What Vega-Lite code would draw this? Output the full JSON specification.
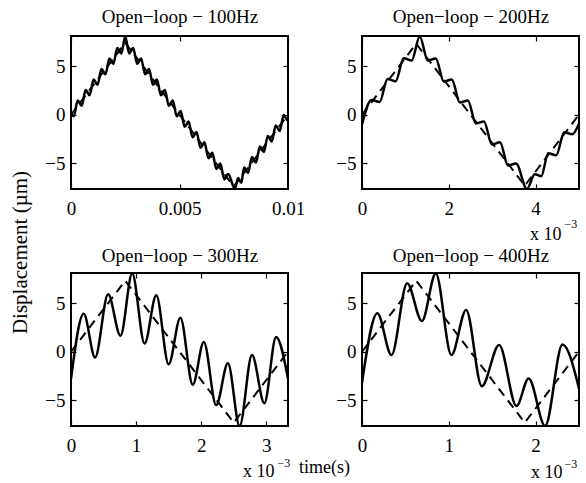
{
  "$schema": "https://vega.github.io/schema/vega-lite/v6.json",
  "background": "white",
  "padding": {"left": 7, "top": 6, "right": 4, "bottom": 2},
  "bounds": "flush",
  "columns": 2,
  "spacing": {"row": 84, "column": 74},
  "config": {
    "font": "Liberation Serif",
    "view": {"stroke": "black", "strokeWidth": 2},
    "axis": {
      "labelFont": "Liberation Serif", "labelFontSize": 19, "labelColor": "black",
      "domain": false, "grid": false, "ticks": true, "tickSize": -5, "tickColor": "black", "tickWidth": 1.2,
      "titleFont": "Liberation Serif", "titleFontWeight": "normal", "titleColor": "black", "titleFontSize": 18,
      "labelFlush": false, "labelOverlap": false
    },
    "axisX": {"labelPadding": 15},
    "axisY": {"labelPadding": 11}
  },
  "datasets": {
    "resp1": [
      {"t": 0, "v": 0.1}, {"t": 0.1275, "v": -0.17}, {"t": 0.31, "v": 1.47}, {"t": 0.4925, "v": 0.91}, {"t": 0.675, "v": 2.55}, {"t": 0.8575, "v": 1.99}, {"t": 1.04, "v": 3.63}, {"t": 1.2225, "v": 3.07}, {"t": 1.405, "v": 4.71}, {"t": 1.5875, "v": 4.15}, {"t": 1.77, "v": 5.79}, {"t": 1.9525, "v": 5.23}, {"t": 2.135, "v": 6.87}, {"t": 2.3175, "v": 6.31}, {"t": 2.5, "v": 8.05}, {"t": 2.6825, "v": 6.31}, {"t": 2.865, "v": 6.87}, {"t": 3.0475, "v": 5.23}, {"t": 3.23, "v": 5.79}, {"t": 3.4125, "v": 4.15}, {"t": 3.595, "v": 4.71}, {"t": 3.7775, "v": 3.07}, {"t": 3.96, "v": 3.63}, {"t": 4.1425, "v": 1.99}, {"t": 4.325, "v": 2.55}, {"t": 4.5075, "v": 0.91}, {"t": 4.69, "v": 1.47}, {"t": 4.8725, "v": -0.17}, {"t": 5.055, "v": 0.39}, {"t": 5.2375, "v": -1.25}, {"t": 5.42, "v": -0.69}, {"t": 5.6025, "v": -2.33}, {"t": 5.785, "v": -1.77}, {"t": 5.9675, "v": -3.41}, {"t": 6.15, "v": -2.85}, {"t": 6.3325, "v": -4.49}, {"t": 6.515, "v": -3.93}, {"t": 6.6975, "v": -5.58}, {"t": 6.88, "v": -5.02}, {"t": 7.0625, "v": -6.66}, {"t": 7.245, "v": -6.1}, {"t": 7.55, "v": -7.65}, {"t": 7.7, "v": -6.52}, {"t": 7.85, "v": -7.0}, {"t": 7.975, "v": -5.44}, {"t": 8.1575, "v": -6.0}, {"t": 8.34, "v": -4.36}, {"t": 8.5225, "v": -4.92}, {"t": 8.705, "v": -3.28}, {"t": 8.8875, "v": -3.84}, {"t": 9.07, "v": -2.2}, {"t": 9.2525, "v": -2.76}, {"t": 9.435, "v": -1.12}, {"t": 9.6175, "v": -1.68}, {"t": 9.8, "v": -0.04}, {"t": 9.9825, "v": -0.6}, {"t": 10, "v": -0.5}
    ],
    "ref1": [{"t": 0, "v": 0}, {"t": 2.5, "v": 7.4}, {"t": 7.5, "v": -7.4}, {"t": 10, "v": 0}],
    "resp2": [
      {"t": 0, "v": -1.0}, {"t": 0.22, "v": 1.52}, {"t": 0.405, "v": 1.3}, {"t": 0.59, "v": 3.67}, {"t": 0.775, "v": 3.44}, {"t": 0.96, "v": 5.81}, {"t": 1.145, "v": 5.58}, {"t": 1.33, "v": 8.05}, {"t": 1.515, "v": 5.57}, {"t": 1.7, "v": 5.79}, {"t": 1.885, "v": 3.41}, {"t": 2.07, "v": 3.63}, {"t": 2.255, "v": 1.25}, {"t": 2.44, "v": 1.47}, {"t": 2.625, "v": -0.91}, {"t": 2.81, "v": -0.69}, {"t": 2.995, "v": -3.07}, {"t": 3.18, "v": -2.85}, {"t": 3.365, "v": -5.24}, {"t": 3.55, "v": -5.02}, {"t": 3.8, "v": -7.65}, {"t": 3.98, "v": -6.12}, {"t": 4.13, "v": -6.34}, {"t": 4.29, "v": -3.96}, {"t": 4.475, "v": -4.18}, {"t": 4.66, "v": -1.8}, {"t": 4.845, "v": -2.02}, {"t": 5, "v": -0.9}
    ],
    "ref2": [{"t": 0, "v": 0}, {"t": 1.25, "v": 7.3}, {"t": 3.75, "v": -7.3}, {"t": 5, "v": 0}],
    "resp3": [
      {"t": 0, "v": -2.8}, {"t": 0.195, "v": 3.9}, {"t": 0.37, "v": -0.6}, {"t": 0.57, "v": 5.9}, {"t": 0.76, "v": 1.65}, {"t": 0.94, "v": 8.05}, {"t": 1.13, "v": 0.85}, {"t": 1.31, "v": 5.8}, {"t": 1.5, "v": -1.3}, {"t": 1.68, "v": 3.5}, {"t": 1.87, "v": -3.4}, {"t": 2.04, "v": 1.0}, {"t": 2.23, "v": -5.5}, {"t": 2.41, "v": -1.2}, {"t": 2.59, "v": -7.65}, {"t": 2.78, "v": -0.35}, {"t": 2.97, "v": -5.3}, {"t": 3.15, "v": 1.5}, {"t": 3.333, "v": -2.8}
    ],
    "ref3": [{"t": 0, "v": 0}, {"t": 0.8333, "v": 7.3}, {"t": 2.5, "v": -7.3}, {"t": 3.333, "v": 0}],
    "resp4": [
      {"t": 0, "v": -3.2}, {"t": 0.177, "v": 3.95}, {"t": 0.34, "v": -0.35}, {"t": 0.52, "v": 7.05}, {"t": 0.69, "v": 3.15}, {"t": 0.85, "v": 8.05}, {"t": 1.03, "v": -0.35}, {"t": 1.2, "v": 4.3}, {"t": 1.38, "v": -3.55}, {"t": 1.58, "v": 0.7}, {"t": 1.78, "v": -5.6}, {"t": 1.92, "v": -2.75}, {"t": 2.11, "v": -7.65}, {"t": 2.31, "v": 0.75}, {"t": 2.5, "v": -3.8}
    ],
    "ref4": [{"t": 0, "v": 0}, {"t": 0.625, "v": 7.3}, {"t": 1.875, "v": -7.3}, {"t": 2.5, "v": 0}]
  },
  "concat": [
    {
      "width": 217, "height": 153,
      "resolve": {"axis": {"x": "independent", "y": "independent"}},
      "layer": [
        {
          "data": {"name": "resp1"},
          "mark": {"type": "line", "interpolate": "monotone", "color": "black", "strokeWidth": 2.5, "clip": true},
          "encoding": {
            "x": {"field": "t", "type": "quantitative", "scale": {"domain": [0, 10], "nice": false, "zero": false},
                  "axis": {"values": [0, 5, 10], "labelExpr": "datum.value == 0 ? '0' : datum.value == 5 ? '0.005' : '0.01'", "title": null}},
            "y": {"field": "v", "type": "quantitative", "scale": {"domain": [-7.65, 8.1], "nice": false, "zero": false},
                  "axis": {"values": [-5, 0, 5], "title": null}}
          }
        },
        {
          "data": {"name": "ref1"},
          "mark": {"type": "line", "color": "black", "strokeWidth": 2, "strokeDash": [9, 6], "clip": true},
          "encoding": {
            "x": {"field": "t", "type": "quantitative", "scale": {"domain": [0, 10], "nice": false, "zero": false},
                  "axis": {"orient": "top", "values": [0, 5, 10], "labels": false, "title": "Open−loop − 100Hz", "titleFontSize": 19, "titleX": 108.5, "titleY": -14, "titleAlign": "center", "titleBaseline": "alphabetic", "titleAngle": 0}},
            "y": {"field": "v", "type": "quantitative", "scale": {"domain": [-7.65, 8.1], "nice": false, "zero": false},
                  "axis": {"orient": "right", "values": [-5, 0, 5], "labels": false, "title": null}}
          }
        }
      ]
    },
    {
      "width": 217, "height": 153,
      "resolve": {"axis": {"x": "independent", "y": "independent"}},
      "layer": [
        {
          "data": {"name": "resp2"},
          "mark": {"type": "line", "interpolate": "monotone", "color": "black", "strokeWidth": 2.5, "clip": true},
          "encoding": {
            "x": {"field": "t", "type": "quantitative", "scale": {"domain": [0, 5], "nice": false, "zero": false},
                  "axis": {"values": [0, 2, 4], "title": "x 10", "titleX": 199, "titleY": 50, "titleAlign": "right", "titleBaseline": "alphabetic"}},
            "y": {"field": "v", "type": "quantitative", "scale": {"domain": [-7.65, 8.1], "nice": false, "zero": false},
                  "axis": {"values": [-5, 0, 5], "title": null}}
          }
        },
        {
          "data": {"name": "ref2"},
          "mark": {"type": "line", "color": "black", "strokeWidth": 2, "strokeDash": [9, 6], "clip": true},
          "encoding": {
            "x": {"field": "t", "type": "quantitative", "scale": {"domain": [0, 5], "nice": false, "zero": false},
                  "axis": {"orient": "top", "values": [0, 2, 4], "labels": false, "title": "Open−loop − 200Hz", "titleFontSize": 19, "titleX": 108.5, "titleY": -14, "titleAlign": "center", "titleBaseline": "alphabetic", "titleAngle": 0}},
            "y": {"field": "v", "type": "quantitative", "scale": {"domain": [-7.65, 8.1], "nice": false, "zero": false},
                  "axis": {"orient": "right", "values": [-5, 0, 5], "labels": false, "title": "−3", "titleFontSize": 12, "titleX": -15, "titleY": 191, "titleAlign": "left", "titleBaseline": "alphabetic", "titleAngle": 0}}
          }
        }
      ]
    },
    {
      "width": 217, "height": 153,
      "resolve": {"axis": {"x": "independent", "y": "independent"}},
      "layer": [
        {
          "data": {"name": "resp3"},
          "mark": {"type": "line", "interpolate": "monotone", "color": "black", "strokeWidth": 2.5, "clip": true},
          "encoding": {
            "x": {"field": "t", "type": "quantitative", "scale": {"domain": [0, 3.333], "nice": false, "zero": false},
                  "axis": {"values": [0, 1, 2, 3], "title": "x 10", "titleX": 203, "titleY": 50, "titleAlign": "right", "titleBaseline": "alphabetic"}},
            "y": {"field": "v", "type": "quantitative", "scale": {"domain": [-7.65, 8.1], "nice": false, "zero": false},
                  "axis": {"values": [-5, 0, 5], "title": "Displacement (µm)", "titleFontSize": 21, "titleX": -45, "titleY": -21, "titleAngle": -90, "titleAlign": "center", "titleBaseline": "alphabetic"}}
          }
        },
        {
          "data": {"name": "ref3"},
          "mark": {"type": "line", "color": "black", "strokeWidth": 2, "strokeDash": [9, 6], "clip": true},
          "encoding": {
            "x": {"field": "t", "type": "quantitative", "scale": {"domain": [0, 3.333], "nice": false, "zero": false},
                  "axis": {"orient": "top", "values": [0, 1, 2, 3], "labels": false, "title": "Open−loop − 300Hz", "titleFontSize": 19, "titleX": 108.5, "titleY": -12, "titleAlign": "center", "titleBaseline": "alphabetic", "titleAngle": 0}},
            "y": {"field": "v", "type": "quantitative", "scale": {"domain": [-7.65, 8.1], "nice": false, "zero": false},
                  "axis": {"orient": "right", "values": [-5, 0, 5], "labels": false, "title": "−3", "titleFontSize": 12, "titleX": -11, "titleY": 193, "titleAlign": "left", "titleBaseline": "alphabetic", "titleAngle": 0}}
          }
        }
      ]
    },
    {
      "width": 217, "height": 153,
      "resolve": {"axis": {"x": "independent", "y": "independent"}},
      "layer": [
        {
          "data": {"name": "resp4"},
          "mark": {"type": "line", "interpolate": "monotone", "color": "black", "strokeWidth": 2.5, "clip": true},
          "encoding": {
            "x": {"field": "t", "type": "quantitative", "scale": {"domain": [0, 2.5], "nice": false, "zero": false},
                  "axis": {"values": [0, 1, 2], "title": "x 10", "titleX": 200, "titleY": 51, "titleAlign": "right", "titleBaseline": "alphabetic"}},
            "y": {"field": "v", "type": "quantitative", "scale": {"domain": [-7.65, 8.1], "nice": false, "zero": false},
                  "axis": {"values": [-5, 0, 5], "title": "time(s)", "titleX": -38, "titleY": 199, "titleAngle": 0, "titleAlign": "center", "titleBaseline": "alphabetic"}}
          }
        },
        {
          "data": {"name": "ref4"},
          "mark": {"type": "line", "color": "black", "strokeWidth": 2, "strokeDash": [9, 6], "clip": true},
          "encoding": {
            "x": {"field": "t", "type": "quantitative", "scale": {"domain": [0, 2.5], "nice": false, "zero": false},
                  "axis": {"orient": "top", "values": [0, 1, 2], "labels": false, "title": "Open−loop − 400Hz", "titleFontSize": 19, "titleX": 108.5, "titleY": -12, "titleAlign": "center", "titleBaseline": "alphabetic", "titleAngle": 0}},
            "y": {"field": "v", "type": "quantitative", "scale": {"domain": [-7.65, 8.1], "nice": false, "zero": false},
                  "axis": {"orient": "right", "values": [-5, 0, 5], "labels": false, "title": "−3", "titleFontSize": 12, "titleX": -15, "titleY": 194, "titleAlign": "left", "titleBaseline": "alphabetic", "titleAngle": 0}}
          }
        }
      ]
    }
  ]
}
